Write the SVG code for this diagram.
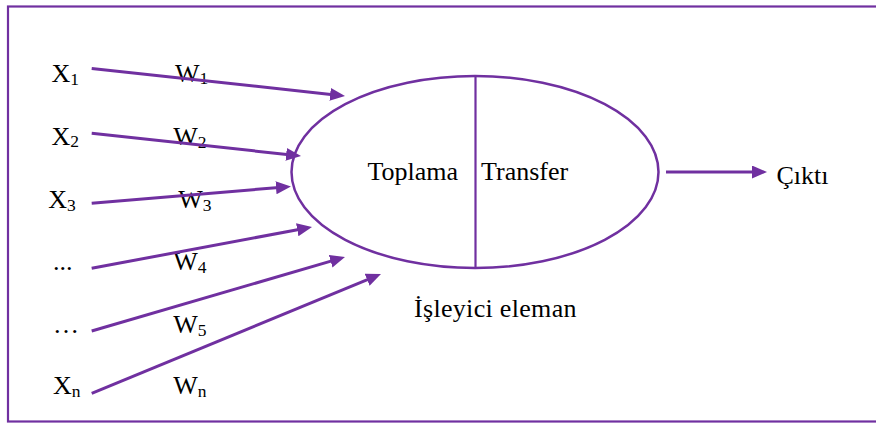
<svg xmlns="http://www.w3.org/2000/svg" width="876" height="423" viewBox="0 0 876 423">
<style>
text{font-family:"Liberation Serif","Times New Roman",serif;font-size:26px;fill:#000}
.sub{font-size:17.5px}
.conn{stroke:#7030A0;stroke-width:3;fill:none;marker-end:url(#ah)}
.shape{stroke:#7030A0;fill:none}
</style>
<defs>
<marker id="ah" markerUnits="userSpaceOnUse" markerWidth="16" markerHeight="14" refX="3" refY="6.5" orient="auto">
<path d="M0,0 L15,6.5 L0,13 z" fill="#7030A0"/>
</marker>
</defs>
<rect x="0" y="0" width="876" height="423" fill="#fff"/>
<rect class="shape" x="8" y="6.5" width="900" height="415" stroke-width="2.2"/>
<g id="processor">
<ellipse class="shape" cx="475" cy="172" rx="183.5" ry="96" stroke-width="2.5"/>
<line class="shape" x1="475.5" y1="76" x2="475.5" y2="268" stroke-width="2.2"/>
<text x="367.5" y="179.5">Toplama</text>
<text x="481" y="179.5">Transfer</text>
<text x="414" y="316.5" textLength="162.5">İşleyici eleman</text>
</g>
<g id="inputs">
<text x="51.5" y="82">X<tspan class="sub" dy="2.5">1</tspan></text>
<text x="51.5" y="144.5">X<tspan class="sub" dy="2.5">2</tspan></text>
<text x="48.3" y="208.3">X<tspan class="sub" dy="2.5">3</tspan></text>
<text x="53" y="270">...</text>
<text x="53" y="332.5">…</text>
<text x="53" y="394">X<tspan class="sub" dy="2.5">n</tspan></text>
</g>
<g id="weights">
<text x="175" y="81.7">W<tspan class="sub" dy="2.5">1</tspan></text>
<text x="173.3" y="145">W<tspan class="sub" dy="2.5">2</tspan></text>
<text x="178.3" y="208.3">W<tspan class="sub" dy="2.5">3</tspan></text>
<text x="173.3" y="270">W<tspan class="sub" dy="2.5">4</tspan></text>
<text x="173.3" y="333.3">W<tspan class="sub" dy="2.5">5</tspan></text>
<text x="173.3" y="394">W<tspan class="sub" dy="2.5">n</tspan></text>
</g>
<g id="output">
<text x="776.5" y="184">Çıktı</text>
</g>
<g id="connectors">
<line class="conn" x1="91.7" y1="68.5" x2="333.1" y2="94.7"/>
<line class="conn" x1="91.7" y1="133.3" x2="289.1" y2="154.7"/>
<line class="conn" x1="91.7" y1="203.3" x2="279" y2="187.5"/>
<line class="conn" x1="91.7" y1="268.3" x2="300.2" y2="229.2"/>
<line class="conn" x1="91.7" y1="331" x2="333.5" y2="260.4"/>
<line class="conn" x1="91.7" y1="393.3" x2="369.9" y2="278.6"/>
<line class="conn" x1="666" y1="172" x2="755" y2="172"/>
</g>
</svg>
